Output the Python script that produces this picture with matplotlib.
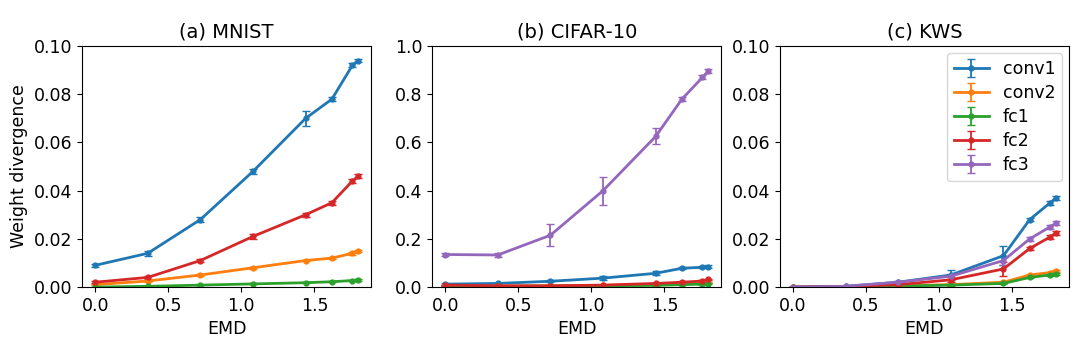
import matplotlib
matplotlib.use("Agg")
import matplotlib.pyplot as plt

emd = [0.0, 0.36, 0.72, 1.08, 1.44, 1.62, 1.76, 1.80]
layers = ["conv1", "conv2", "fc1", "fc2", "fc3"]
colors = ["#1f77b4", "#ff7f0e", "#2ca02c", "#d62728", "#9467bd"]

# MNIST
mnist_conv1 = [0.009, 0.014, 0.028, 0.048, 0.070, 0.078, 0.092, 0.094]
mnist_conv1_err = [0.0005, 0.001, 0.001, 0.001, 0.003, 0.0008, 0.0008, 0.0006]
mnist_conv2 = [0.001, 0.0025, 0.005, 0.008, 0.011, 0.012, 0.014, 0.015]
mnist_conv2_err = [0.0003, 0.0003, 0.0003, 0.0004, 0.0004, 0.0004, 0.0005, 0.0005]
mnist_fc1 = [0.0, 0.0003, 0.0008, 0.0013, 0.0018, 0.0022, 0.0027, 0.003]
mnist_fc1_err = [0.0001, 0.0001, 0.0001, 0.0002, 0.0002, 0.0002, 0.0003, 0.0003]
mnist_fc2 = [0.002, 0.004, 0.011, 0.021, 0.030, 0.035, 0.044, 0.046]
mnist_fc2_err = [0.0005, 0.0005, 0.0006, 0.001, 0.0008, 0.0008, 0.0008, 0.0008]

# CIFAR-10
cifar_conv1 = [0.012, 0.015, 0.024, 0.037, 0.057, 0.078, 0.082, 0.085]
cifar_conv1_err = [0.003, 0.003, 0.004, 0.008, 0.008, 0.005, 0.005, 0.005]
cifar_conv2 = [0.003, 0.004, 0.005, 0.007, 0.010, 0.014, 0.017, 0.020]
cifar_conv2_err = [0.002, 0.002, 0.002, 0.002, 0.002, 0.002, 0.002, 0.002]
cifar_fc1 = [0.002, 0.003, 0.004, 0.005, 0.007, 0.010, 0.012, 0.014]
cifar_fc1_err = [0.001, 0.001, 0.001, 0.001, 0.002, 0.002, 0.002, 0.002]
cifar_fc2 = [0.008, 0.005, 0.005, 0.008, 0.015, 0.020, 0.025, 0.032]
cifar_fc2_err = [0.002, 0.002, 0.002, 0.002, 0.003, 0.003, 0.003, 0.003]
cifar_fc3 = [0.135, 0.133, 0.215, 0.400, 0.625, 0.780, 0.870, 0.895]
cifar_fc3_err = [0.005, 0.010, 0.045, 0.058, 0.033, 0.008, 0.008, 0.008]

# KWS
kws_conv1 = [0.0, 0.0003, 0.002, 0.005, 0.013, 0.028, 0.035, 0.037]
kws_conv1_err = [0.0001, 0.0002, 0.0004, 0.002, 0.004, 0.0008, 0.0008, 0.0008]
kws_conv2 = [0.0, 0.0001, 0.0005, 0.001, 0.002, 0.005, 0.006, 0.0068]
kws_conv2_err = [0.0001, 0.0001, 0.0001, 0.0002, 0.0003, 0.0004, 0.0004, 0.0004]
kws_fc1 = [0.0, 0.0001, 0.0004, 0.0008, 0.0015, 0.004, 0.005, 0.0055]
kws_fc1_err = [0.0001, 0.0001, 0.0001, 0.0002, 0.0003, 0.0004, 0.0004, 0.0004]
kws_fc2 = [0.0, 0.0002, 0.001, 0.003, 0.0075, 0.016, 0.0208, 0.0225]
kws_fc2_err = [0.0001, 0.0001, 0.0003, 0.001, 0.003, 0.0008, 0.0008, 0.0008]
kws_fc3 = [0.0, 0.0003, 0.002, 0.0045, 0.011, 0.020, 0.025, 0.0265]
kws_fc3_err = [0.0001, 0.0002, 0.0004, 0.001, 0.002, 0.0008, 0.0008, 0.0008]

panels = [
    ("(a) MNIST", [(0, 0.10), [0.00, 0.02, 0.04, 0.06, 0.08, 0.10], "{:.2f}"],
     [("conv1", mnist_conv1, mnist_conv1_err), ("conv2", mnist_conv2, mnist_conv2_err),
      ("fc1", mnist_fc1, mnist_fc1_err), ("fc2", mnist_fc2, mnist_fc2_err)]),
    ("(b) CIFAR-10", [(0, 1.0), [0.0, 0.2, 0.4, 0.6, 0.8, 1.0], "{:.1f}"],
     [("conv1", cifar_conv1, cifar_conv1_err), ("conv2", cifar_conv2, cifar_conv2_err),
      ("fc1", cifar_fc1, cifar_fc1_err), ("fc2", cifar_fc2, cifar_fc2_err),
      ("fc3", cifar_fc3, cifar_fc3_err)]),
    ("(c) KWS", [(0, 0.10), [0.00, 0.02, 0.04, 0.06, 0.08, 0.10], "{:.2f}"],
     [("conv1", kws_conv1, kws_conv1_err), ("conv2", kws_conv2, kws_conv2_err),
      ("fc1", kws_fc1, kws_fc1_err), ("fc2", kws_fc2, kws_fc2_err),
      ("fc3", kws_fc3, kws_fc3_err)]),
]

fig = plt.figure(figsize=(10.8, 3.45), dpi=100)
lefts = [0.0759, 0.400, 0.722]
width = 0.268
bottom = 0.168
height = 0.6985

for i, (title, (ylim, yticks, fmt), series) in enumerate(panels):
    ax = fig.add_axes([lefts[i], bottom, width, height])
    for name, vals, errs in series:
        c = colors[layers.index(name)]
        ax.errorbar(emd, vals, yerr=errs, color=c, label=name, marker='.',
                    markersize=7, linewidth=2, capsize=3, elinewidth=1.3)
    ax.set_ylim(*ylim)
    ax.set_xlim(-0.09, 1.89)
    ax.set_yticks(yticks)
    ax.set_yticklabels([fmt.format(t) for t in yticks])
    ax.set_xticks([0.0, 0.5, 1.0, 1.5])
    ax.tick_params(labelsize=12.5)
    ax.set_title(title, fontsize=14)
    ax.set_xlabel("EMD", fontsize=12.5)
    if i == 0:
        ax.set_ylabel("Weight divergence", fontsize=12.5)
    if i == 2:
        ax.legend(loc="upper right", fontsize=12.5, handlelength=2.0,
                  borderaxespad=0.4, labelspacing=0.35)

fig.savefig("out.png", dpi=100)
